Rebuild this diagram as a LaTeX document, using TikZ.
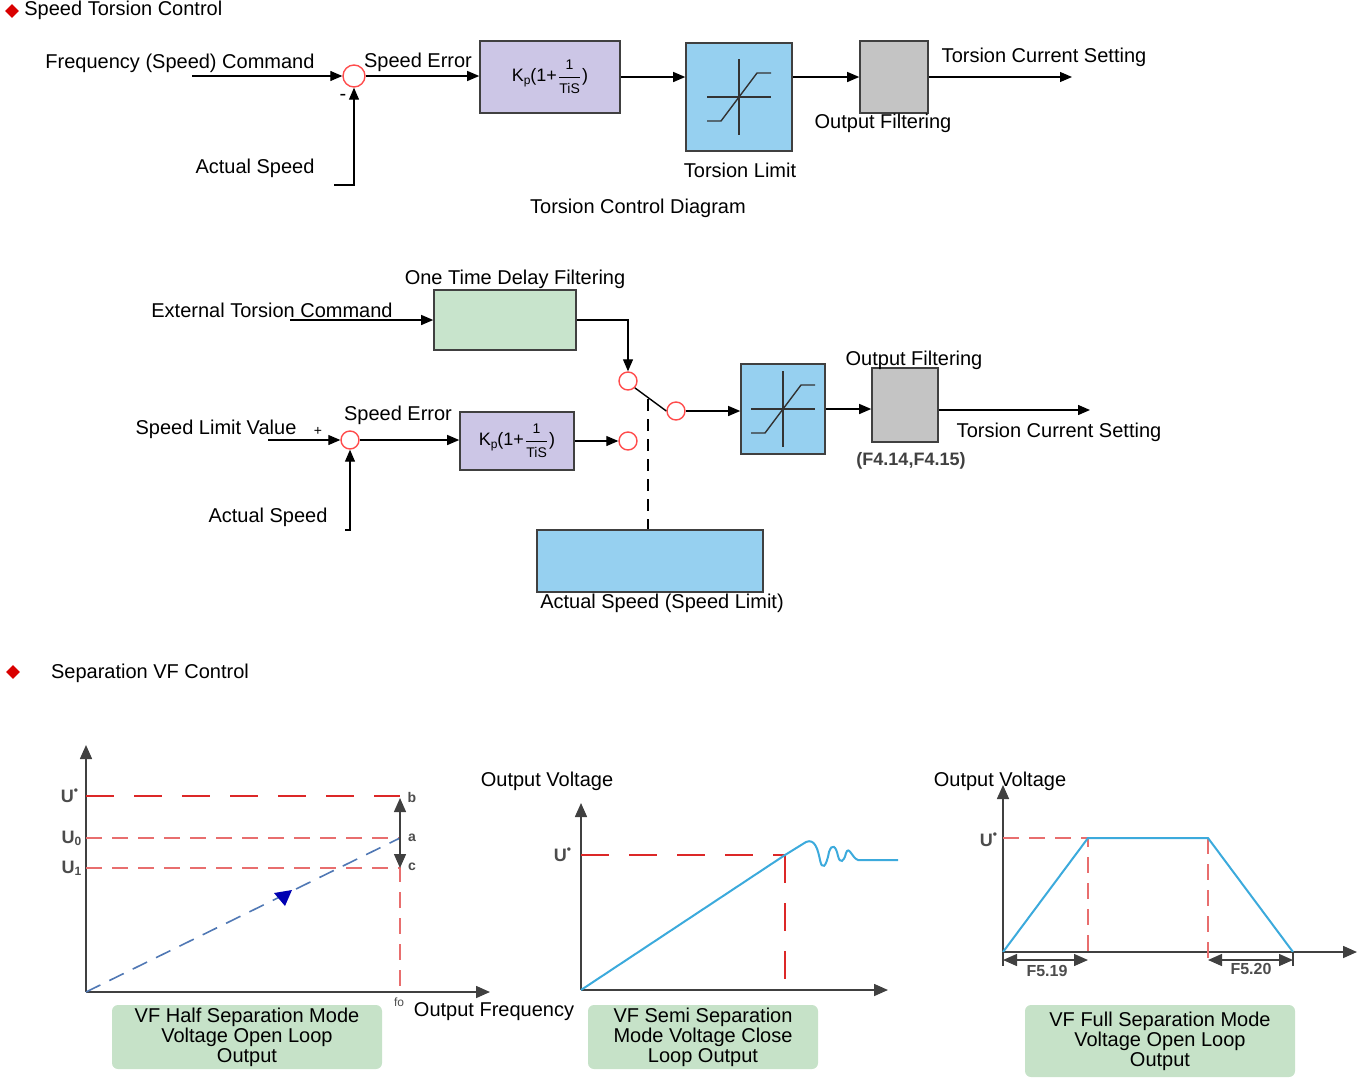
\documentclass[tikz,border=0pt]{standalone}
\usepackage{amsmath}
\usepackage{fontspec}
\setmainfont{Liberation Sans}
\usepackage{xcolor}
\usetikzlibrary{arrows.meta, positioning, calc, shapes.geometric}

\definecolor{piblue}{RGB}{204,198,230}
\definecolor{limblue}{RGB}{150,208,240}
\definecolor{filtgray}{RGB}{196,196,196}
\definecolor{delaygreen}{RGB}{200,228,204}
\definecolor{capgreen}{RGB}{198,226,200}
\definecolor{redline}{RGB}{220,40,40}
\definecolor{pinkline}{RGB}{232,110,110}
\definecolor{curveblue}{RGB}{60,170,220}
\definecolor{steel}{RGB}{80,120,180}

\tikzset{
  txt/.style={font=\fontsize{10}{12}\selectfont, inner sep=0pt},
  small/.style={font=\fontsize{7}{8}\selectfont\bfseries, text=black!70, inner sep=0pt},
  blk/.style={draw=black!75, line width=0.8pt, inner sep=0pt},
  sum/.style={circle, draw=red!70, line width=0.7pt, minimum size=11pt, inner sep=0pt},
  sw/.style={circle, draw=red!70, line width=0.7pt, minimum size=9pt, inner sep=0pt},
  arr/.style={-{Triangle[length=6pt,width=5pt]}, line width=0.6pt},
  capbox/.style={fill=capgreen, rounded corners=3pt, align=center, inner sep=0pt,
    font=\fontsize{10}{10}\selectfont},
  axis/.style={-{Triangle[length=7pt,width=6pt]}, line width=0.8pt, black!75},
  bullet/.style={diamond, fill=red!85!black, inner sep=0pt, minimum size=7pt}
}

\newcommand{\pitext}{\fontsize{9}{10}\selectfont K\raisebox{-1.5pt}{\fontsize{6}{6}\selectfont p}(1+$\dfrac{\text{\fontsize{7}{7}\selectfont 1}}{\text{\fontsize{7}{7}\selectfont TiS}}$)}
\newcommand{\ustar}{U\textsuperscript{\textbullet}}
\newcommand{\satsym}[1]{%
  \draw[line width=0.7pt, black!80] ($(#1)+(-32,0)$) -- ($(#1)+(32,0)$);
  \draw[line width=0.7pt, black!80] ($(#1)+(0,-38)$) -- ($(#1)+(0,38)$);
  \draw[line width=0.7pt, black!80] ($(#1)+(-32,24)$) -- ($(#1)+(-18,24)$) -- ($(#1)+(18,-24)$) -- ($(#1)+(32,-24)$);}

\begin{document}
\begin{tikzpicture}[x=0.5pt, y=-0.5pt]
  \useasboundingbox (0,0) rectangle (1360,1082);

  % speed torsion control
  \node[bullet] (m1) at (12,11) {};
  \node[txt, anchor=west] (t1) at (24,10) {Speed Torsion Control};

  \node[txt] (fcmd) at (180,63) {Frequency (Speed) Command};
  \coordinate (fin) at (192,76);
  \node[sum] (s1) at (354,76) {};
  \node[txt] at (343,97) {-};
  \node[txt] (as1) at (255,168) {Actual Speed};
  \coordinate (fb1) at (334,185);
  \node[blk, fill=piblue, minimum width=70pt, minimum height=36pt] (pi1) at (550,77) {\pitext};
  \node[blk, fill=limblue, minimum width=53pt, minimum height=54pt] (lim1) at (739,97) {};
  \satsym{lim1.center}
  \node[blk, fill=filtgray, minimum width=34pt, minimum height=36pt] (flt1) at (894,77) {};
  \coordinate (out1) at (1072,77);
  \node[txt] at (418,62) {Speed Error};
  \node[txt] at (1044,57) {Torsion Current Setting};
  \node[txt] at (883,123) {Output Filtering};
  \node[txt] at (740,170) {Torsion Limit};
  \node[txt] at (638,208) {Torsion Control Diagram};

  \draw[arr] (fin) -- (s1.west);
  \draw[arr] (fb1) -| (s1.south);
  \draw[arr] (s1.east) -- (s1.east -| pi1.west);
  \draw[arr] (pi1.east) -- (pi1.east -| lim1.west);
  \draw[arr] (lim1.east |- flt1.west) -- (flt1.west);
  \draw[arr] (flt1.east) -- (out1);

  % torsion limit mode
  \node[txt] at (515,279) {One Time Delay Filtering};
  \node[txt] at (272,310) {External Torsion Command};
  \coordinate (ein) at (290,320);
  \node[blk, fill=delaygreen, minimum width=71pt, minimum height=30pt] (dly) at (505,320) {};
  \node[sw] (c1) at (628,381) {};
  \node[sw] (c2) at (628,441) {};
  \node[sw] (c3) at (676,411) {};
  \node[blk, fill=limblue, minimum width=42pt, minimum height=45pt] (lim2) at (783,409) {};
  \satsym{lim2.center}
  \node[blk, fill=filtgray, minimum width=33pt, minimum height=37pt] (flt2) at (905,405) {};
  \coordinate (out2) at (1090,410);
  \node[txt] at (914,360) {Output Filtering};
  \node[txt] at (1059,432) {Torsion Current Setting};
  \node[txt, font=\fontsize{9}{10}\selectfont\bfseries, text=black!75] at (911,461) {(F4.14,F4.15)};

  \node[txt] at (216,429) {Speed Limit Value};
  \node[txt, font=\fontsize{7}{8}\selectfont] at (318,431) {+};
  \coordinate (lin) at (268,440);
  \node[sum, minimum size=9pt] (s2) at (350,440) {};
  \node[txt] at (268,517) {Actual Speed};
  \coordinate (fb2) at (345,530);
  \node[txt] at (398,415) {Speed Error};
  \node[blk, fill=piblue, minimum width=57pt, minimum height=29pt] (pi2) at (517,441) {\pitext};
  \node[blk, fill=limblue, minimum width=113pt, minimum height=31pt] (asl) at (650,561) {};
  \node[txt] at (662,603) {Actual Speed (Speed Limit)};
  \coordinate (swm) at (648,399);

  \draw[arr] (ein) -- (ein -| dly.west);
  \draw[arr] (dly.east |- ein) -| (c1.north);
  \draw[line width=0.7pt] (c1.south east) -- (c3.west);
  \draw[arr] (c3.east) -- (c3.east -| lim2.west);
  \draw[arr] (lim2.east) -- (lim2.east -| flt2.west);
  \draw[line width=0.7pt, -{Triangle[length=6pt,width=5pt]}] (flt2.east |- out2) -- (out2);
  \draw[arr] (lin) -- (s2.west);
  \draw[arr] (fb2) -| (s2.south);
  \draw[arr] (s2.east) -- (s2.east -| pi2.west);
  \draw[arr] (pi2.east) -- (c2.west);
  \draw[dashed, line width=0.7pt, dash pattern=on 6pt off 4pt] (swm) -- (swm |- asl.north);

  % separation vf control
  \node[bullet] (m2) at (13,672) {};
  \node[txt] at (150,673) {Separation VF Control};

  % graph 1
  \coordinate (o1) at (86,992);
  \draw[axis] (o1) -- (86,745);
  \draw[axis] (o1) -- (490,992);
  \draw[redline, line width=1.4pt, dash pattern=on 14pt off 10pt] (86,796) -- (400,796);
  \draw[pinkline, line width=0.8pt, dash pattern=on 8pt off 5pt] (86,838) -- (400,838);
  \draw[pinkline, line width=0.8pt, dash pattern=on 8pt off 5pt] (86,868) -- (400,868) -- (400,992);
  \draw[steel, line width=0.8pt, dash pattern=on 8pt off 5pt] (o1) -- (400,838);
  \fill[blue!70!black] (274,893) -- (292,890) -- (285,906) -- cycle;
  \coordinate (ga) at (400,838);
  \draw[axis, line width=0.7pt] (ga) -- (400,798);
  \draw[axis, line width=0.7pt] (ga) -- (400,868);
  \node[small, font=\fontsize{9}{10}\selectfont\bfseries] at (70,796) {\ustar};
  \node[small, font=\fontsize{9}{10}\selectfont\bfseries] at (72,838) {U\textsubscript{0}};
  \node[small, font=\fontsize{9}{10}\selectfont\bfseries] at (72,868) {U\textsubscript{1}};
  \node[small] at (412,797) {b};
  \node[small] at (412,838) {a};
  \node[small] at (412,867) {c};
  \node[small, font=\fontsize{6}{7}\selectfont] at (399,1002) {fo};
  \node[txt] at (494,1012) {Output Frequency};
  \node[capbox, minimum width=135pt, minimum height=32pt] at (247,1037)
    {VF Half Separation Mode\\Voltage Open Loop\\Output};

  % graph 2
  \coordinate (o2) at (581,990);
  \node[txt] at (547,781) {Output Voltage};
  \draw[axis] (o2) -- (581,803);
  \draw[axis] (o2) -- (888,990);
  \draw[redline, line width=1.4pt, dash pattern=on 14pt off 10pt] (581,855) -- (785,855);
  \draw[redline, line width=1.4pt, dash pattern=on 14pt off 10pt] (785,855) -- (785,990);
  \draw[curveblue, line width=1pt] (o2) -- (785,855) -- (806,842)
    .. controls (815,838) and (818,850) .. (820,860)
    .. controls (822,870) and (826,868) .. (829,852)
    .. controls (832,843) and (836,846) .. (838,856)
    .. controls (840,864) and (844,862) .. (846,853)
    .. controls (849,845) and (852,858) .. (858,860) -- (898,860);
  \node[small, font=\fontsize{9}{10}\selectfont\bfseries] at (563,855) {\ustar};
  \node[capbox, minimum width=115pt, minimum height=32pt] at (703,1037)
    {VF Semi Separation\\Mode Voltage Close\\Loop Output};

  % graph 3
  \coordinate (o3) at (1003,952);
  \node[txt] at (1000,781) {Output Voltage};
  \draw[axis] (o3) -- (1003,785);
  \draw[axis] (o3) -- (1357,952);
  \draw[pinkline, line width=0.9pt, dash pattern=on 8pt off 5pt] (1003,838) -- (1088,838) -- (1088,958);
  \draw[pinkline, line width=0.9pt, dash pattern=on 8pt off 5pt] (1208,838) -- (1208,958);
  \draw[curveblue, line width=1pt] (o3) -- (1088,838) -- (1208,838) -- (1293,952);
  \draw[black!75, line width=0.7pt] (1003,952) -- (1003,966) (1293,952) -- (1293,966);
  \draw[axis, line width=0.7pt, {Triangle[length=7pt,width=6pt]}-{Triangle[length=7pt,width=6pt]}] (1003,960) -- (1088,960);
  \draw[axis, line width=0.7pt, {Triangle[length=7pt,width=6pt]}-{Triangle[length=7pt,width=6pt]}] (1208,960) -- (1293,960);
  \node[small, font=\fontsize{8}{9}\selectfont\bfseries] at (1047,971) {F5.19};
  \node[small, font=\fontsize{8}{9}\selectfont\bfseries] at (1251,969) {F5.20};
  \node[small, font=\fontsize{9}{10}\selectfont\bfseries] at (989,840) {\ustar};
  \node[capbox, minimum width=135pt, minimum height=36pt] at (1160,1041)
    {VF Full Separation Mode\\Voltage Open Loop\\Output};
\end{tikzpicture}
\end{document}
